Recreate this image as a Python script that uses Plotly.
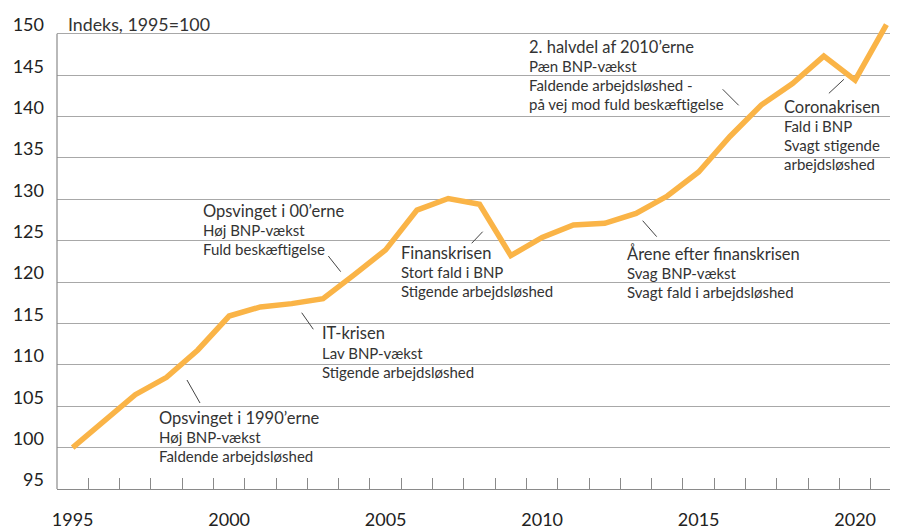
import plotly.graph_objects as go

# ---- data ----
years = list(range(1995, 2022))
index_values = [100.0, 103.2, 106.4, 108.5, 111.8, 115.9, 117.0, 117.4, 118.0, 120.9,
                123.9, 128.7, 130.1, 129.4, 123.2, 125.4, 126.9, 127.1, 128.3, 130.4,
                133.3, 137.6, 141.4, 144.0, 147.3, 144.4, 151.1]
y_ticks = [95, 100, 105, 110, 115, 120, 125, 130, 135, 140, 145, 150]
x_tick_labels = [1995, 2000, 2005, 2010, 2015, 2020]
y_title = "Indeks, 1995=100"

# annotation texts
blocks = [
    ["Opsvinget i 1990\u2019erne", "Høj BNP-vækst", "Faldende arbejdsløshed"],
    ["IT-krisen", "Lav BNP-vækst", "Stigende arbejdsløshed"],
    ["Opsvinget i 00\u2019erne", "Høj BNP-vækst", "Fuld beskæftigelse"],
    ["Finanskrisen", "Stort fald i BNP", "Stigende arbejdsløshed"],
    ["Årene efter finanskrisen", "Svag BNP-vækst", "Svagt fald i arbejdsløshed"],
    ["2. halvdel af 2010\u2019erne", "Pæn BNP-vækst", "Faldende arbejdsløshed -",
     "på vej mod fuld beskæftigelse"],
    ["Coronakrisen", "Fald i BNP", "Svagt stigende", "arbejdsløshed"],
]

# ---- layout / placement (not data) ----
block_pos = [(1997.70, 103.58), (2002.90, 113.85), (1999.09, 128.63), (2005.44, 123.52),
             (2012.65, 123.48), (2009.53, 148.44), (2017.65, 141.19)]
leaders = [((1998.653, 108.17), (1999.069, 105.39)),
           ((2002.318, 116.30), (2002.689, 114.30)),
           ((2003.168, 123.15), (2003.564, 121.26)),
           ((2007.749, 124.69), (2008.100, 126.09)),
           ((2013.212, 127.42), (2013.660, 125.49)),
           ((2015.768, 143.30), (2016.280, 141.36)),
           ((2019.161, 142.81), (2019.641, 144.50))]
line_offsets = [0, 19.5, 38.5, 57.5]

FONT = "Lato"
TXT = "#333333"
GRID = "#a8a8a8"
AXIS = "#8a8a8a"

fig = go.Figure()
fig.add_trace(go.Scatter(x=years, y=index_values, mode="lines",
                         line=dict(color="#FAB447", width=5.5),
                         hoverinfo="skip", showlegend=False, cliponaxis=False))

annotations = []
for (bx, by), lines in zip(block_pos, blocks):
    for i, txt in enumerate(lines):
        annotations.append(dict(x=bx, y=by, xref="x", yref="y", text=txt,
                                showarrow=False, xanchor="left", yanchor="middle",
                                yshift=-line_offsets[i],
                                font=dict(family=FONT, size=16.5 if i == 0 else 15, color=TXT)))
annotations.append(dict(x=0.011, y=0.969, xref="paper", yref="paper", text=y_title,
                        showarrow=False, xanchor="left", yanchor="middle",
                        font=dict(family=FONT, size=17.8, color=TXT)))

shapes = []
for (x0, y0), (x1, y1) in leaders:
    shapes.append(dict(type="line", xref="x", yref="y", x0=x0, y0=y0, x1=x1, y1=y1,
                       line=dict(color="#444444", width=1)))
shapes.append(dict(type="line", xref="paper", yref="y", x0=0, x1=0, y0=95, y1=150,
                   line=dict(color=AXIS, width=1.2)))

# the page body has an 8px default margin; compensate so the plot sits where the reference has it
fig.update_layout(
    width=890, height=521,
    margin=dict(l=49, r=0, t=1, b=40),
    plot_bgcolor="white", paper_bgcolor="white",
    annotations=annotations, shapes=shapes,
    xaxis=dict(range=[1994.5, 2021.37], tickmode="array", tickvals=x_tick_labels,
               ticks="", showgrid=False, showline=True, linecolor=AXIS, linewidth=1.2,
               zeroline=False, ticklabelstandoff=14, automargin=False,
               tickfont=dict(family=FONT, size=18, color="#222222"),
               minor=dict(tickmode="array", tickvals=[y + 0.5 for y in years[:-1]],
                          ticks="inside", ticklen=11, tickcolor=AXIS, tickwidth=1,
                          showgrid=False)),
    yaxis=dict(range=[95, 153], tickmode="array", tickvals=y_ticks,
               ticks="", showgrid=True, gridcolor=GRID, gridwidth=1,
               showline=False, zeroline=False, ticklabelstandoff=12,
               ticklabelshift=-9, automargin=False,
               tickfont=dict(family=FONT, size=18, color="#222222")),
)

fig.write_html("out.html")
